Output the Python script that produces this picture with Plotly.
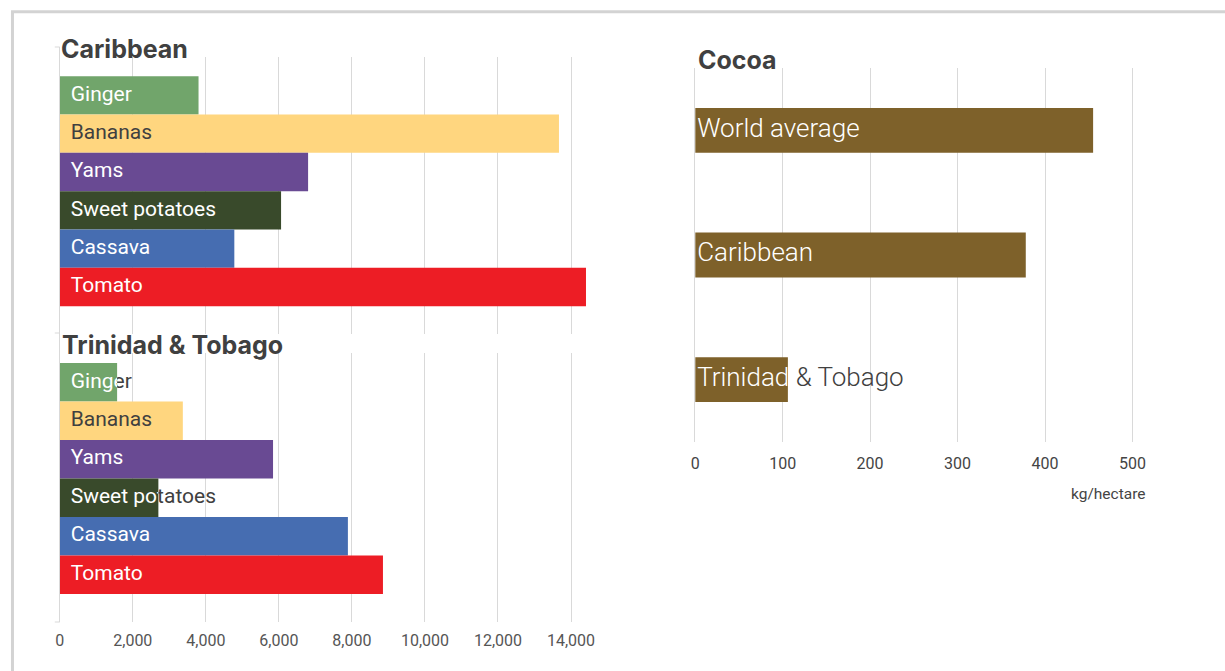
import plotly.graph_objects as go

W, H = 1225, 671

# ---------------- data ----------------
crops = ["Ginger", "Bananas", "Yams", "Sweet potatoes", "Cassava", "Tomato"]
caribbean_yield = [3800, 13670, 6800, 6060, 4780, 14410]
trinidad_yield = [1570, 3370, 5840, 2700, 7890, 8850]
crop_colors = ["#71a56b", "#ffd67f", "#694a93", "#394a2b", "#466db1", "#ed1d25"]
crop_label_colors = ["#ffffff", "#404040", "#ffffff", "#ffffff", "#ffffff", "#ffffff"]

cocoa_regions = ["World average", "Caribbean", "Trinidad & Tobago"]
cocoa_yield = [455, 378, 106]
cocoa_color = "#7e612a"

left_tickvals = [0, 2000, 4000, 6000, 8000, 10000, 12000, 14000]
left_ticktext = ["0", "2,000", "4,000", "6,000", "8,000", "10,000", "12,000", "14,000"]
right_tickvals = [0, 100, 200, 300, 400, 500]
right_ticktext = ["0", "100", "200", "300", "400", "500"]

panel_titles = ["Caribbean", "Trinidad & Tobago", "Cocoa"]
unit_label = "kg/hectare"

# ---------------- style / layout ----------------
DARK = "#404040"
GRID = "#d9d9d9"


def fx(px):
    return px / W


def fy(py):
    return 1 - py / H


LX0 = 55  # left edge of the crop panels (px)

panels = [
    dict(cats=crops, vals=caribbean_yield, colors=crop_colors, tcolors=crop_label_colors,
         xpx=(LX0, LX0 + 550), ypx=(47, 333), xrange=(0, 15000), yrange=(6.2, -1.26),
         barwidth=1.0, font=dict(family="Roboto", size=21), pad_px=11, ticks=False),
    dict(cats=crops, vals=trinidad_yield, colors=crop_colors, tcolors=crop_label_colors,
         xpx=(LX0, LX0 + 550), ypx=(333, 622), xrange=(0, 15000), yrange=(6.23, -1.28),
         barwidth=1.0, font=dict(family="Roboto", size=21), pad_px=11, ticks="left"),
    dict(cats=cocoa_regions, vals=cocoa_yield, colors=[cocoa_color] * 3,
         tcolors=["#ffffff"] * 3,
         xpx=(693, 1176), ypx=(68, 442), xrange=(0, 550), yrange=(2.5, -0.5),
         barwidth=0.36, font=dict(family="Roboto", size=26, weight=300), pad_px=2, ticks="right"),
]

fig = go.Figure()
layout_axes = {}
axn = 1
clip_specs = []

for p in panels:
    xd = [fx(p["xpx"][0]), fx(p["xpx"][1])]
    yd = [fy(p["ypx"][1]), fy(p["ypx"][0])]
    main, ov = axn, axn + 1
    axn += 2
    mx = "xaxis" if main == 1 else f"xaxis{main}"
    my = "yaxis" if main == 1 else f"yaxis{main}"
    mxr = "x" if main == 1 else f"x{main}"
    myr = "y" if main == 1 else f"y{main}"
    xax = dict(domain=xd, range=list(p["xrange"]), showgrid=True, gridcolor=GRID, gridwidth=1,
               zeroline=False, showline=False, ticks="", anchor=myr, fixedrange=True)
    if p["ticks"] == "left":
        xax.update(tickmode="array", tickvals=left_tickvals, ticktext=left_ticktext,
                   showticklabels=True, ticklabelstandoff=7,
                   tickfont=dict(family="Roboto", size=16, color="#555555"))
    elif p["ticks"] == "right":
        xax.update(tickmode="array", tickvals=right_tickvals, ticktext=right_ticktext,
                   showticklabels=True, ticklabelstandoff=10,
                   tickfont=dict(family="Roboto", size=16, color="#444444"))
    else:
        xax.update(tickmode="array", tickvals=left_tickvals, showticklabels=False)
    yax = dict(domain=yd, type="category", categoryorder="array", categoryarray=p["cats"],
               range=list(p["yrange"]), showgrid=False, showticklabels=False, ticks="",
               showline=True, linecolor=GRID, linewidth=1, zeroline=False, anchor=mxr,
               fixedrange=True)
    layout_axes[mx] = xax
    layout_axes[my] = yax
    layout_axes[f"xaxis{ov}"] = dict(overlaying=mxr, range=list(p["xrange"]), visible=False,
                                     anchor=f"y{ov}")
    layout_axes[f"yaxis{ov}"] = dict(overlaying=myr, type="category", categoryorder="array",
                                     categoryarray=p["cats"], range=list(p["yrange"]),
                                     visible=False, anchor=f"x{ov}")

    pad = p["pad_px"] * (p["xrange"][1] - p["xrange"][0]) / (p["xpx"][1] - p["xpx"][0])
    # dark labels (beneath the bars)
    fig.add_trace(go.Scatter(x=[pad] * len(p["cats"]), y=p["cats"], text=p["cats"], mode="text",
                             textposition="middle right",
                             textfont=dict(color=DARK, **p["font"]),
                             xaxis=mxr, yaxis=myr, hoverinfo="skip", showlegend=False))
    # bars
    fig.add_trace(go.Bar(x=p["vals"], y=p["cats"], orientation="h",
                         marker=dict(color=p["colors"], line=dict(width=0)),
                         width=p["barwidth"], xaxis=f"x{ov}", yaxis=f"y{ov}",
                         hoverinfo="skip", showlegend=False))
    clip_specs.append((p, pad))

# label parts that sit on the bars, clipped to each bar's extent
for p, pad in clip_specs:
    y0, y1 = p["ypx"]
    r_bot, r_top = p["yrange"]
    x0px, x1px = p["xpx"]
    xspan = p["xrange"][1] - p["xrange"][0]
    for i, (cat, v) in enumerate(zip(p["cats"], p["vals"])):
        def upx(u):
            return y0 + (u - r_top) / (r_bot - r_top) * (y1 - y0)
        band_top, band_bot = upx(i - 0.5), upx(i + 0.5)
        bar_end_px = x0px + (x1px - x0px) * v / xspan
        n = axn
        axn += 1
        layout_axes[f"xaxis{n}"] = dict(domain=[fx(x0px), fx(bar_end_px)], range=[0, v],
                                        visible=False, anchor=f"y{n}", fixedrange=True)
        layout_axes[f"yaxis{n}"] = dict(domain=[fy(band_bot), fy(band_top)], range=[-0.5, 0.5],
                                        visible=False, anchor=f"x{n}", fixedrange=True)
        fig.add_trace(go.Scatter(x=[pad], y=[0], text=[cat], mode="text",
                                 textposition="middle right", cliponaxis=True,
                                 textfont=dict(color=p["tcolors"][i], **p["font"]),
                                 xaxis=f"x{n}", yaxis=f"y{n}", hoverinfo="skip",
                                 showlegend=False))

shapes = [
    # outer frame
    dict(type="rect", xref="paper", yref="paper", x0=fx(7.5), y0=fy(11.7), x1=1.1, y1=-0.1,
         line=dict(color="#d3d3d3", width=3), fillcolor="rgba(0,0,0,0)", layer="above"),
    # white bands behind panel titles
    dict(type="rect", xref="paper", yref="paper", x0=fx(LX0 + 1), x1=fx(640), y0=fy(57), y1=fy(40),
         line=dict(width=0), fillcolor="white", layer="above"),
    dict(type="rect", xref="paper", yref="paper", x0=fx(LX0 + 1), x1=fx(640), y0=fy(353), y1=fy(334),
         line=dict(width=0), fillcolor="white", layer="above"),
]
for yv in [47, 333, 622]:
    shapes.append(dict(type="line", xref="paper", yref="paper", x0=fx(LX0 - 5), x1=fx(LX0),
                       y0=fy(yv), y1=fy(yv), line=dict(color=GRID, width=1), layer="above"))

title_font = dict(family="Inter", size=25, color=DARK, weight="bold")
annotations = [
    dict(text=panel_titles[0], x=fx(LX0 - 1), y=fy(49), xref="paper", yref="paper",
         xanchor="left", yanchor="middle", showarrow=False, font=title_font),
    dict(text=panel_titles[1], x=fx(LX0), y=fy(345), xref="paper", yref="paper",
         xanchor="left", yanchor="middle", showarrow=False, font=title_font),
    dict(text=panel_titles[2], x=fx(694), y=fy(60), xref="paper", yref="paper",
         xanchor="left", yanchor="middle", showarrow=False, font=title_font),
    dict(text=unit_label, x=fx(1148), y=fy(494), xref="paper", yref="paper",
         xanchor="right", yanchor="middle", showarrow=False,
         font=dict(family="Roboto", size=15.5, color="#444444")),
]

fig.update_layout(
    width=W, height=H, margin=dict(l=0, r=0, t=0, b=0),
    paper_bgcolor="white", plot_bgcolor="rgba(0,0,0,0)",
    barmode="overlay", showlegend=False, hovermode=False,
    shapes=shapes, annotations=annotations,
    **layout_axes,
)

fig.write_html("out.html", config={"displayModeBar": False},
               post_script="document.body.style.margin='0';")
